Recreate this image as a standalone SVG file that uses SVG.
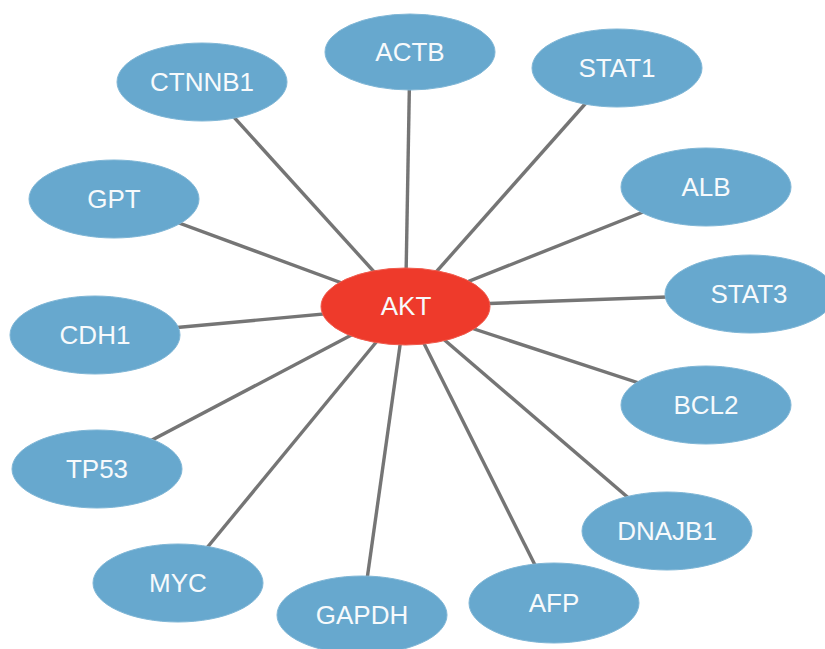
<svg xmlns="http://www.w3.org/2000/svg" width="825" height="649" viewBox="0 0 825 649">
<style>
.edge{stroke:#757575;stroke-width:3.4;fill:none}
.n ellipse{fill:#67a8ce;stroke:#7fb6d6;stroke-width:1}
.hub ellipse{fill:#ee3a2b;stroke:#f05a4c;stroke-width:1}
text{font-family:"Liberation Sans",Arial,sans-serif;font-size:26px;fill:#f7fafc;text-anchor:middle}
</style>
<rect width="825" height="649" fill="#ffffff"/>
<g id="edges">
<line class="edge" x1="405.5" y1="306.5" x2="410" y2="52"/>
<line class="edge" x1="405.5" y1="306.5" x2="617" y2="68"/>
<line class="edge" x1="405.5" y1="306.5" x2="202" y2="82"/>
<line class="edge" x1="405.5" y1="306.5" x2="706" y2="187"/>
<line class="edge" x1="405.5" y1="306.5" x2="114" y2="199"/>
<line class="edge" x1="405.5" y1="306.5" x2="750" y2="294"/>
<line class="edge" x1="405.5" y1="306.5" x2="95" y2="335"/>
<line class="edge" x1="405.5" y1="306.5" x2="706" y2="405"/>
<line class="edge" x1="405.5" y1="306.5" x2="97" y2="469"/>
<line class="edge" x1="405.5" y1="306.5" x2="667" y2="531"/>
<line class="edge" x1="405.5" y1="306.5" x2="178" y2="583"/>
<line class="edge" x1="405.5" y1="306.5" x2="554" y2="603"/>
<line class="edge" x1="405.5" y1="306.5" x2="362" y2="615"/>
</g>
<g id="ACTB" class="n"><ellipse cx="410" cy="52" rx="85" ry="38"/><text x="410" y="61">ACTB</text></g>
<g id="STAT1" class="n"><ellipse cx="617" cy="68" rx="85" ry="39"/><text x="617" y="77">STAT1</text></g>
<g id="CTNNB1" class="n"><ellipse cx="202" cy="82" rx="85" ry="39"/><text x="202" y="91">CTNNB1</text></g>
<g id="ALB" class="n"><ellipse cx="706" cy="187" rx="85" ry="39"/><text x="706" y="196">ALB</text></g>
<g id="GPT" class="n"><ellipse cx="114" cy="199" rx="85" ry="39"/><text x="114" y="208">GPT</text></g>
<g id="STAT3" class="n"><ellipse cx="750" cy="294" rx="85" ry="39"/><text x="749" y="303">STAT3</text></g>
<g id="CDH1" class="n"><ellipse cx="95" cy="335" rx="85" ry="39"/><text x="95" y="344">CDH1</text></g>
<g id="BCL2" class="n"><ellipse cx="706" cy="405" rx="85" ry="39"/><text x="706" y="414">BCL2</text></g>
<g id="TP53" class="n"><ellipse cx="97" cy="469" rx="85" ry="39"/><text x="97" y="478">TP53</text></g>
<g id="DNAJB1" class="n"><ellipse cx="667" cy="531" rx="85" ry="39"/><text x="667" y="540">DNAJB1</text></g>
<g id="MYC" class="n"><ellipse cx="178" cy="583" rx="85" ry="39"/><text x="178" y="592">MYC</text></g>
<g id="AFP" class="n"><ellipse cx="554" cy="603" rx="85" ry="40"/><text x="554" y="612">AFP</text></g>
<g id="GAPDH" class="n"><ellipse cx="362" cy="615" rx="85" ry="39"/><text x="362" y="624">GAPDH</text></g>
<g id="AKT" class="hub"><ellipse cx="405.5" cy="306.5" rx="84.5" ry="38.5"/><text x="406" y="315">AKT</text></g>
</svg>
